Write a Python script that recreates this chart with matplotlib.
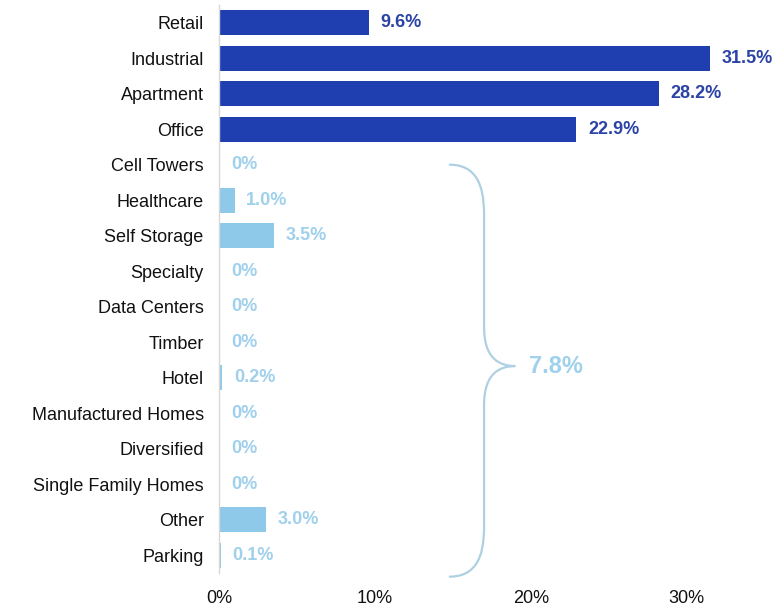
import matplotlib.pyplot as plt
from matplotlib.path import Path
from matplotlib.patches import PathPatch

plt.rcParams['font.family'] = ['Liberation Sans', 'DejaVu Sans']

categories = ['Retail', 'Industrial', 'Apartment', 'Office', 'Cell Towers', 'Healthcare',
              'Self Storage', 'Specialty', 'Data Centers', 'Timber', 'Hotel',
              'Manufactured Homes', 'Diversified', 'Single Family Homes', 'Other', 'Parking']
values = [9.6, 31.5, 28.2, 22.9, 0, 1.0, 3.5, 0, 0, 0, 0.2, 0, 0, 0, 3.0, 0.1]
labels = ['9.6%', '31.5%', '28.2%', '22.9%', '0%', '1.0%', '3.5%', '0%', '0%', '0%',
          '0.2%', '0%', '0%', '0%', '3.0%', '0.1%']
major_count = 4
other_total = '7.8%'
x_ticks = [0, 10, 20, 30]

DARK = '#1f3fb0'
DARK_TEXT = '#2b42a6'
LIGHT = '#8ec9ea'
LIGHT_TEXT = '#9fd0ec'
BRACE = '#aed0e2'

fig = plt.figure(figsize=(7.82, 6.11), dpi=100)
ax = fig.add_axes([0.280, 0.062, 0.698, 0.930])

y = list(range(len(categories)))
colors = [DARK if i < major_count else LIGHT for i in y]
ax.barh(y, values, height=0.7, color=colors)

for i, (v, lab) in enumerate(zip(values, labels)):
    tc = DARK_TEXT if i < major_count else LIGHT_TEXT
    ax.annotate(lab, (v, i), xytext=(8.5, 0), textcoords='offset points',
                va='center', ha='left', fontsize=13, fontweight='bold', color=tc)

ax.set_xlim(0, 35)
ax.set_ylim(len(categories) - 0.5, -0.5)
ax.set_yticks(y)
ax.set_yticklabels(categories, fontsize=13, color='#111111')
ax.set_xticks(x_ticks)
ax.set_xticklabels([f'{t}%' for t in x_ticks], fontsize=13, color='#111111')
ax.tick_params(length=0)
ax.tick_params(axis='x', pad=12)
ax.tick_params(axis='y', pad=11)
for s in ['top', 'right', 'bottom']:
    ax.spines[s].set_visible(False)
ax.spines['left'].set_color('#d8d8d8')
ax.spines['left'].set_linewidth(1)

# curly brace grouping the smaller sectors
x0, x1, xt = 14.8, 17.0, 19.0
ya, yb, ym = 4.0, 15.6, 9.67
verts = [
    (x0, ya), (x1, ya), (x1, ya + 1.0), (x1, ya + 1.5),
    (x1, ym - 1.1),
    (x1, ym - 0.2), (xt - 1.0, ym), (xt, ym),
    (xt - 1.0, ym), (x1, ym + 0.2), (x1, ym + 1.1),
    (x1, yb - 1.5),
    (x1, yb - 1.0), (x1, yb), (x0, yb),
]
codes = [Path.MOVETO, Path.CURVE4, Path.CURVE4, Path.CURVE4,
         Path.LINETO,
         Path.CURVE4, Path.CURVE4, Path.CURVE4,
         Path.CURVE4, Path.CURVE4, Path.CURVE4,
         Path.LINETO,
         Path.CURVE4, Path.CURVE4, Path.CURVE4]
ax.add_patch(PathPatch(Path(verts, codes), fill=False, edgecolor=BRACE, lw=1.6,
                       capstyle='round', clip_on=False))
ax.text(xt + 0.9, ym, other_total, va='center', ha='left', fontsize=17,
        fontweight='bold', color=LIGHT_TEXT)

fig.savefig('out.png', dpi=100)
